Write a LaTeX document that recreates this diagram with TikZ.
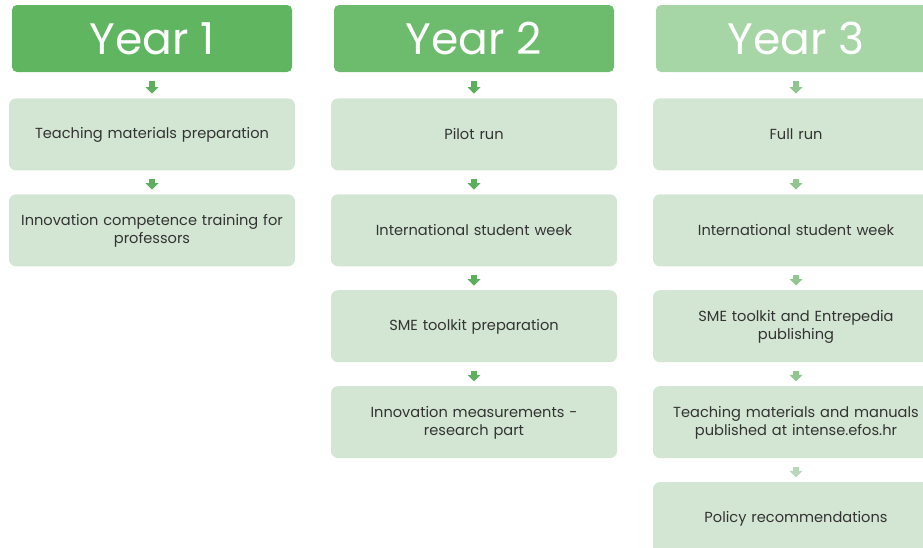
\documentclass[tikz,border=0pt]{standalone}
\usepackage{fontspec}
\setmainfont{Poppins}
\usetikzlibrary{positioning,arrows.meta}
\definecolor{yearA}{HTML}{60B660}
\definecolor{yearB}{HTML}{6DBC6D}
\definecolor{yearC}{HTML}{A6D6A6}
\definecolor{taskfill}{HTML}{D3E6D3}
\definecolor{taskink}{HTML}{333333}
\definecolor{arrA}{HTML}{5DAE5D}
\definecolor{arrC}{HTML}{8FC78F}
\definecolor{arrD}{HTML}{B7D9B7}

\begin{document}
\begin{tikzpicture}[x=1pt,y=-1pt,node distance=23.5pt,
    year/.style={rounded corners=5pt,minimum width=280pt,minimum height=67pt,
                 inner sep=0pt,text=white,font=\fontsize{44}{44}\selectfont},
    task/.style={rounded corners=7pt,fill=taskfill,minimum width=286pt,
                 minimum height=72pt,inner sep=0pt,text width=280pt,align=center,
                 text=taskink,font=\fontsize{14.6}{18}\selectfont,
                 execute at begin node={\rule[-3pt]{0pt}{16pt}},
                 execute at end node={\rule[-3pt]{0pt}{3pt}}},
    link/.style={line width=6.5pt,-{Triangle[width=13pt,length=6.5pt,line width=0pt]},
                 shorten <=8.5pt,shorten >=4.5pt}]

        \useasboundingbox (0,0) rectangle (923,547);
        \clip (0,0) rectangle (923,547);

        % year headers
        \node[year,fill=yearA]  (Y1) at (152,38.5) {Year 1};
        \node[year,fill=yearB]  (Y2) at (474,38.5) {Year 2};
        \node[year,fill=yearC]  (Y3) at (796,38.5) {Year 3};

        % year 1
        \node[task]  (T11) [below=26pt of Y1]  {Teaching materials preparation};
        \node[task]  (T12) [below=of T11]      {Innovation competence training for\\professors};

        % year 2
        \node[task]  (T21) [below=26pt of Y2]  {Pilot run};
        \node[task]  (T22) [below=of T21]      {International student week};
        \node[task]  (T23) [below=of T22]      {SME toolkit preparation};
        \node[task]  (T24) [below=of T23]      {Innovation measurements -\\research part};

        % year 3
        \node[task]  (T31) [below=26pt of Y3]  {Full run};
        \node[task]  (T32) [below=of T31]      {International student week};
        \node[task]  (T33) [below=of T32]      {SME toolkit and Entrepedia\\publishing};
        \node[task]  (T34) [below=of T33]      {Teaching materials and manuals\\published at intense.efos.hr};
        \node[task]  (T35) [below=of T34]      {Policy recommendations};

        \path[link,arrA] (Y1) edge (T11)
                         (T11) edge (T12)
                         (Y2) edge (T21)
                         (T21) edge (T22)
                         (T22) edge (T23)
                         (T23) edge (T24);
        \path[link,arrC] (Y3) edge (T31)
                         (T31) edge (T32)
                         (T32) edge (T33)
                         (T33) edge (T34);
        \path[link,arrD] (T34) edge (T35);
\end{tikzpicture}
\end{document}
